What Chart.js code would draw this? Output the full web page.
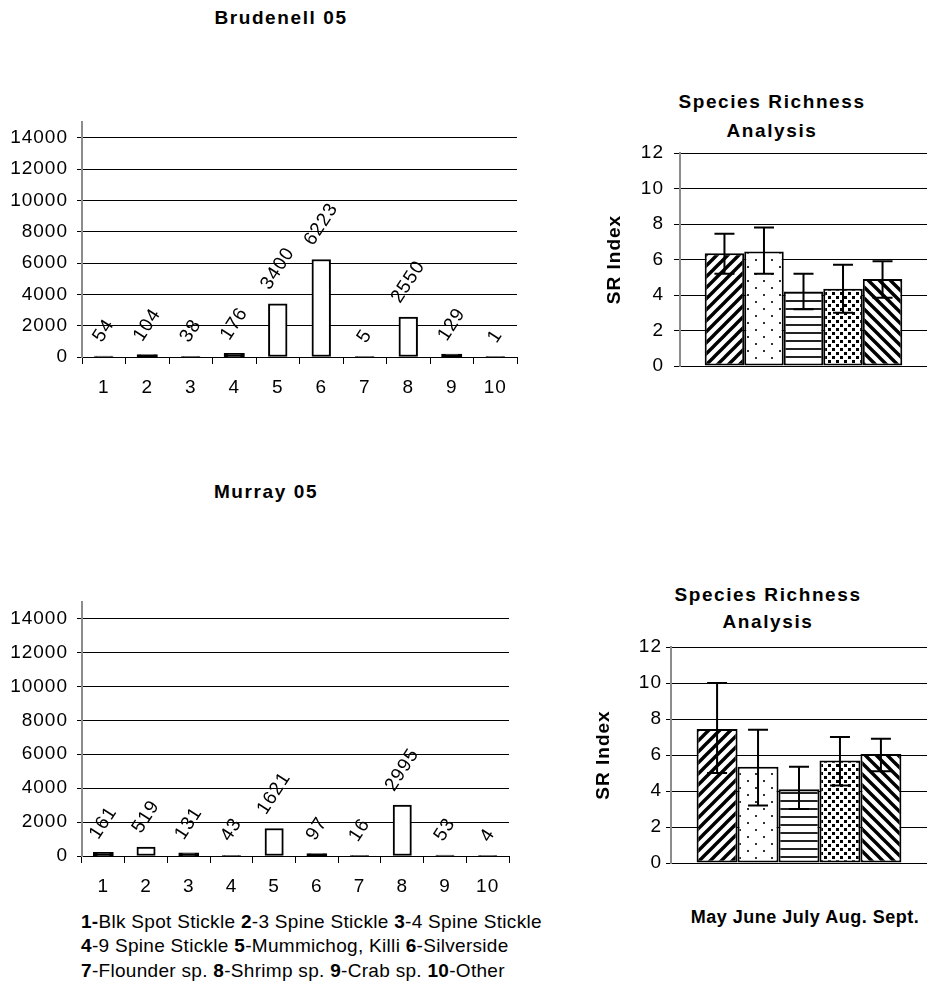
<!DOCTYPE html>
<html>
<head>
<meta charset="utf-8">
<script src="https://cdn.jsdelivr.net/npm/chart.js@4.4.1/dist/chart.umd.min.js"></script>
<style>
  body { margin: 0; background: #fff; font-family: "Liberation Sans", Arial, sans-serif; color: #000; }
  #page { position: relative; width: 927px; height: 984px; overflow: hidden; }
  canvas { position: absolute; }
  .title { position: absolute; width: 300px; font-weight: bold; font-size: 19px; line-height: 19px;
           letter-spacing: 1.6px; text-align: center; white-space: nowrap; }
  .key { position: absolute; left: 81px; font-size: 19px; line-height: 19px; letter-spacing: 0.3px; white-space: nowrap; }
  #months { position: absolute; left: 655px; width: 300px; text-align: center; font-weight: bold;
            font-size: 18px; line-height: 18px; letter-spacing: 0.5px; white-space: nowrap; }
</style>
</head>
<body>
<div id="page">
  <div class="title" style="left:131px; top:8px;">Brudenell 05</div>
  <div class="title" style="left:622px; top:92px;">Species Richness</div>
  <div class="title" style="left:622px; top:121px;">Analysis</div>
  <div class="title" style="left:116px; top:482px;">Murray 05</div>
  <div class="title" style="left:618px; top:585px;">Species Richness</div>
  <div class="title" style="left:618px; top:612px;">Analysis</div>

  <canvas id="brudenellCounts" width="560" height="410" style="left:0; top:0;"></canvas>
  <canvas id="brudenellSR" width="367" height="330" style="left:560px; top:60px;"></canvas>
  <canvas id="murrayCounts" width="560" height="430" style="left:0; top:470px;"></canvas>
  <canvas id="murraySR" width="367" height="330" style="left:560px; top:560px;"></canvas>

  <div id="key"></div>
  <div id="months" style="top:908px;"></div>
</div>

<script>
// species numbers on the count charts
const speciesNumbers = ["1", "2", "3", "4", "5", "6", "7", "8", "9", "10"];
const speciesNames = ["Blk Spot Stickle", "3 Spine Stickle", "4 Spine Stickle", "9 Spine Stickle",
  "Mummichog, Killi", "Silverside", "Flounder sp.", "Shrimp sp.", "Crab sp.", "Other"];
const keyLines = [[0, 1, 2], [3, 4, 5], [6, 7, 8, 9]];

const brudenellCounts = [54, 104, 38, 176, 3400, 6223, 5, 2550, 129, 1];
const murrayCounts = [161, 519, 131, 43, 1621, 97, 16, 2995, 53, 4];
const countTicks = [0, 2000, 4000, 6000, 8000, 10000, 12000, 14000];

// species richness by month, with error bar ends
const srMonths = ["May", "June", "July", "Aug.", "Sept."];
const brudenellSR = [6.35, 6.45, 4.2, 4.35, 4.9];
const brudenellSRHigh = [7.45, 7.8, 5.2, 5.7, 5.9];
const brudenellSRLow = [5.2, 5.2, 3.2, 3.0, 3.85];
const murraySR = [7.45, 5.35, 4.1, 5.7, 6.05];
const murraySRHigh = [10.0, 7.4, 5.35, 7.0, 6.9];
const murraySRLow = [5.0, 3.2, 3.0, 4.3, 5.1];
const srTicks = [0, 2, 4, 6, 8, 10, 12];

Chart.defaults.font.family = '"Liberation Sans", Arial, sans-serif';
Chart.defaults.font.size = 19;
Chart.defaults.color = "#000";
Chart.defaults.animation = false;

// the key under the Murray chart
document.getElementById("key").innerHTML = keyLines.map((line, li) => {
  const parts = line.map((i, k) => {
    const num = speciesNumbers[i];
    if (li === 0 && k === 0) return "<b>" + num + "-</b>" + speciesNames[i];
    return "<b>" + num + "</b>-" + speciesNames[i];
  });
  return '<div class="key" style="top:' + (911.5 + li * 24.5) + 'px;">' + parts.join(" ") + "</div>";
}).join("");
document.getElementById("months").textContent = srMonths.join(" ");

// Excel-ish letter spacing on the canvas text
const letterSpace = {
  id: "letterSpace",
  beforeDraw(chart, args, opts) {
    chart.ctx.letterSpacing = opts.px || "0px";
  },
};

// rotated value labels above each bar
const valueLabels = {
  id: "valueLabels",
  afterDatasetsDraw(chart, args, opts) {
    if (!opts.enabled) return;
    const { ctx } = chart;
    const meta = chart.getDatasetMeta(0);
    const values = chart.data.datasets[0].data;
    const a = (opts.angle * Math.PI) / 180;
    ctx.save();
    ctx.font = '19px "Liberation Sans", Arial, sans-serif';
    ctx.fillStyle = "#000";
    ctx.textAlign = "center";
    ctx.textBaseline = "middle";
    meta.data.forEach((bar, i) => {
      const txt = String(values[i]);
      const w = ctx.measureText(txt).width;
      const h = 14;
      const boxH = w * Math.abs(Math.sin(a)) + h * Math.cos(a);
      ctx.save();
      ctx.translate(bar.x, bar.y - opts.gap - boxH / 2);
      ctx.rotate(a);
      ctx.fillText(txt, 0, 0);
      ctx.restore();
    });
    ctx.restore();
  },
};

// error bars for the species richness bars
const errorBars = {
  id: "errorBars",
  afterDatasetsDraw(chart, args, opts) {
    if (!opts.high) return;
    const { ctx } = chart;
    const y = chart.scales.y;
    ctx.save();
    ctx.strokeStyle = "#000";
    ctx.lineWidth = 2;
    chart.data.datasets.forEach((ds, i) => {
      const bar = chart.getDatasetMeta(i).data[0];
      const top = y.getPixelForValue(opts.high[i]);
      const bot = y.getPixelForValue(opts.low[i]);
      ctx.beginPath();
      ctx.moveTo(bar.x, top);
      ctx.lineTo(bar.x, bot);
      ctx.moveTo(bar.x - 10, top);
      ctx.lineTo(bar.x + 10, top);
      ctx.moveTo(bar.x - 10, bot);
      ctx.lineTo(bar.x + 10, bot);
      ctx.stroke();
    });
    ctx.restore();
  },
};

// black and white fill patterns, one per month
function makePattern(kind) {
  const tile = document.createElement("canvas");
  const t = tile.getContext("2d");
  let w = 11, h = 11;
  if (kind === "dots") { w = 16; h = 14; }
  if (kind === "hlines") { w = 4; h = 8; }
  if (kind === "dense") { w = 8; h = 8; }
  tile.width = w;
  tile.height = h;
  t.fillStyle = "#fff";
  t.fillRect(0, 0, w, h);
  t.fillStyle = "#000";
  t.strokeStyle = "#000";
  if (kind === "up" || kind === "down") {
    t.lineWidth = 3.4;
    t.beginPath();
    if (kind === "up") {
      t.moveTo(-1, w + 1); t.lineTo(w + 1, -1);
      t.moveTo(-w / 2 - 1, w / 2 + 1); t.lineTo(w / 2 + 1, -w / 2 - 1);
      t.moveTo(w / 2 - 1, w * 1.5 + 1); t.lineTo(w * 1.5 + 1, w / 2 - 1);
    } else {
      t.moveTo(-1, -1); t.lineTo(w + 1, w + 1);
      t.moveTo(-w / 2 - 1, w / 2 - 1); t.lineTo(w / 2 + 1, w * 1.5 + 1);
      t.moveTo(w / 2 - 1, -w / 2 - 1); t.lineTo(w * 1.5 + 1, w / 2 + 1);
    }
    t.stroke();
  } else if (kind === "dots") {
    t.fillStyle = "#333";
    t.fillRect(3, 3, 2, 2);
    t.fillRect(11, 10, 2, 2);
  } else if (kind === "hlines") {
    t.fillStyle = "#222";
    t.fillRect(0, 0, w, 2);
  } else if (kind === "dense") {
    t.fillRect(0, 0, 3, 3);
    t.fillRect(4, 4, 3, 3);
  }
  return t.createPattern(tile, "repeat");
}
const monthPatterns = ["up", "dots", "hlines", "dense", "down"].map(makePattern);

function makeCountChart(id, values, padding) {
  return new Chart(document.getElementById(id), {
    type: "bar",
    data: {
      labels: speciesNumbers,
      datasets: [{
        data: values,
        // very short bars show up as solid black slivers in the original
        backgroundColor: (c) => (c.raw < 400 ? "#000" : "#fff"),
        inflateAmount: (c) => (c.raw >= 80 && c.raw < 400 ? 1.2 : 0.33),
        borderColor: "#000",
        borderWidth: 2,
        borderSkipped: false,
        categoryPercentage: 1,
        barPercentage: 0.43,
      }],
    },
    options: {
      responsive: false,
      layout: { padding },
      plugins: {
        legend: { display: false },
        tooltip: { enabled: false },
        valueLabels: { enabled: true, angle: -57, gap: 12 },
        letterSpace: { px: "1px" },
      },
      scales: {
        x: {
          grid: { offset: true, drawOnChartArea: false, tickLength: 7, color: "#000" },
          border: { color: "#000", width: 1 },
          ticks: { padding: 12, maxRotation: 0, autoSkip: false },
          afterFit: (s) => { s.height = 40; },
        },
        y: {
          min: 0,
          max: 15000,
          afterBuildTicks: (s) => { s.ticks = countTicks.map((v) => ({ value: v })); },
          grid: { color: "#000", lineWidth: 1, tickLength: 5 },
          border: { color: "#8c8c8c", width: 2 },
          ticks: { padding: 9, callback: (v) => String(v) },
          afterFit: (s) => { s.width = 82; },
        },
      },
    },
    plugins: [letterSpace, valueLabels],
  });
}

function makeSRChart(id, values, high, low, padding, axisWidth, titlePad, tick) {
  return new Chart(document.getElementById(id), {
    type: "bar",
    data: {
      labels: [""],
      datasets: srMonths.map((m, i) => ({
        label: m,
        data: [values[i]],
        backgroundColor: monthPatterns[i],
        borderColor: "#000",
        borderWidth: 2,
        borderSkipped: false,
        categoryPercentage: 0.8,
        barPercentage: 1,
      })),
    },
    options: {
      responsive: false,
      layout: { padding },
      plugins: {
        legend: { display: false },
        tooltip: { enabled: false },
        errorBars: { high, low },
        letterSpace: { px: "1px" },
      },
      scales: {
        x: { display: false },
        y: {
          min: 0,
          max: 12,
          afterBuildTicks: (s) => { s.ticks = srTicks.map((v) => ({ value: v })); },
          grid: { color: "#000", lineWidth: 1, tickLength: tick.len },
          border: { color: "#8c8c8c", width: 2 },
          ticks: { padding: tick.pad, callback: (v) => String(v) },
          title: {
            display: true,
            text: "SR Index",
            font: { size: 19, weight: "bold" },
            padding: { top: titlePad, bottom: 0 },
          },
          afterFit: (s) => { s.width = axisWidth; },
        },
      },
    },
    plugins: [letterSpace, errorBars],
  });
}

makeCountChart("brudenellCounts", brudenellCounts, { left: 0, right: 43, top: 122, bottom: 13 });
makeCountChart("murrayCounts", murrayCounts, { left: 0, right: 51, top: 131.5, bottom: 4 });
makeSRChart("brudenellSR", brudenellSR, brudenellSRHigh, brudenellSRLow,
  { left: 0, right: 0, top: 93, bottom: 24 }, 120, 43, { len: 6, pad: 10 });
makeSRChart("murraySR", murraySR, murraySRHigh, murraySRLow,
  { left: 0, right: 0, top: 87, bottom: 27 }, 111, 32, { len: 5, pad: 4 });
</script>
</body>
</html>
